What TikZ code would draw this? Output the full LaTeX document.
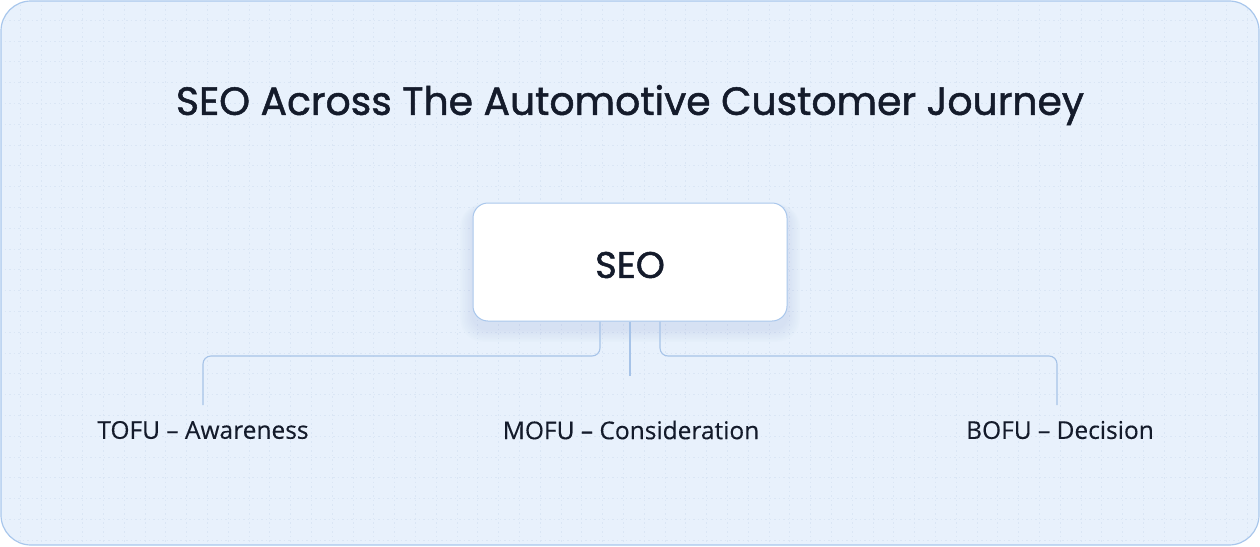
\documentclass[tikz,border=0pt]{standalone}
\usepackage{fontspec}
\setmainfont{Open Sans}
\newfontfamily\titlefont[FakeBold=1.3]{Poppins}
\newfontfamily\lblfont[FakeBold=0.3]{Open Sans}
\definecolor{bgfill}{HTML}{E8F1FC}
\definecolor{bgline}{HTML}{A9C7EC}
\definecolor{gridc}{HTML}{DAE6F5}
\definecolor{txt}{HTML}{141B2B}
\definecolor{conn}{HTML}{A6C3E8}
\definecolor{shad}{HTML}{8FAAD0}
\tikzset{
  card/.style={draw=bgline, line width=1pt, fill=white, rounded corners=15pt, minimum width=314pt, minimum height=118pt, inner sep=0pt},
  conline/.style={draw=conn, line width=1.1pt, rounded corners=8pt},
  lbl/.style={text=txt, font=\lblfont\fontsize{24.5}{28}\selectfont, inner sep=0pt},
}
\begin{document}
\begin{tikzpicture}[x=1pt,y=-1pt]
\useasboundingbox (0,0) rectangle (1260,546);
\draw[fill=bgfill, draw=bgline, line width=1.2pt, rounded corners=30pt] (1,1) rectangle (1259,545);
\begin{scope}
\clip[rounded corners=30pt] (2,2) rectangle (1258,544);
\foreach \i in {0,...,60} {
  \draw[gridc, line width=0.6pt, dash pattern=on 1.5pt off 3pt] (20+\i*20.8,0) -- (20+\i*20.8,546);
}
\foreach \j in {0,...,26} {
  \draw[gridc, line width=0.6pt, dash pattern=on 1.5pt off 3pt] (0,20+\j*20.8) -- (1260,20+\j*20.8);
}
\end{scope}
\node[text=txt, font=\titlefont\fontsize{39.3}{46}\selectfont, inner sep=0pt] (title) at (630,105) {SEO Across The Automotive Customer Journey};
% soft shadow
\foreach \k in {1,...,8} {
  \fill[shad, opacity=0.022, rounded corners=15pt+\k pt] (473-\k*1.6,207-\k*0.4) rectangle (787+\k*1.6,329+\k*1.6);
}
\node[card] (seo) at (630,262) {};
\node[text=txt, font=\titlefont\fontsize{37}{42}\selectfont, inner sep=0pt] (seotxt) at ([yshift=-3pt]seo.center) {SEO};
\node[lbl] (tofu) at (203,430) {TOFU – Awareness};
\node[lbl] (mofu) at (631,430) {MOFU – Consideration};
\node[lbl] (bofu) at (1060,430) {BOFU – Decision};
\coordinate (tofuend) at (203,405);
\coordinate (mofuend) at (630,376);
\coordinate (bofuend) at (1057,405);
\draw[conline] ([xshift=-30pt]seo.south) |- (400,356) -| (tofuend);
\draw[conline] (seo.south) -- (mofuend);
\draw[conline] ([xshift=30pt]seo.south) |- (860,356) -| (bofuend);
\end{tikzpicture}
\end{document}
